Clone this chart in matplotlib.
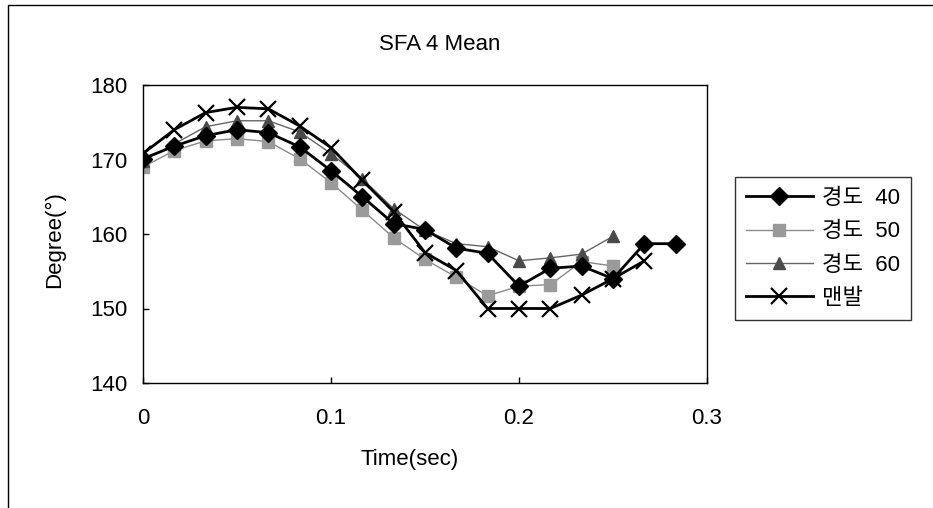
import numpy as np
import matplotlib
matplotlib.use("Agg")
import matplotlib.pyplot as plt
from matplotlib.patches import Rectangle

plt.rcParams['font.family'] = ['Liberation Sans', 'Noto Sans CJK KR', 'DejaVu Sans']

# time axis (sec)
time = [0, 0.0167, 0.0333, 0.05, 0.0667, 0.0833, 0.1, 0.1167, 0.1333,
        0.15, 0.1667, 0.1833, 0.2, 0.2167, 0.2333, 0.25, 0.2667, 0.2833]

hd40 = [170.1, 171.8, 173.2, 174.0, 173.6, 171.7, 168.5, 165.0, 161.4,
        160.6, 158.1, 157.4, 153.0, 155.4, 155.7, 154.0, 158.7, 158.7]
hd50 = [169.0, 171.2, 172.5, 172.8, 172.4, 170.1, 166.9, 163.2, 159.5,
        156.6, 154.2, 151.7, 153.0, 153.2, 156.3, 155.7]
hd60 = [169.8, 172.1, 174.4, 175.2, 175.2, 173.7, 170.8, 167.4, 163.4,
        160.5, 158.7, 158.3, 156.4, 156.8, 157.3, 159.7]
barefoot = [170.8, 174.0, 176.3, 177.0, 176.8, 174.5, 171.6, 167.2, 163.0,
            157.5, 155.1, 150.0, 150.0, 150.0, 151.8, 154.0, 156.4]

labels = ["경도  40", "경도  50", "경도  60", "맨발"]

fig = plt.figure(figsize=(9.33, 5.08), dpi=100)
ax = fig.add_axes([143/933, 1-383/508, (707-143)/933, (383-85)/508])

ax.plot(time[:len(hd40)], hd40, color='black', lw=2, marker='D', ms=9,
        mfc='black', mec='black', label=labels[0], zorder=3)
ax.plot(time[:len(hd50)], hd50, color='#8a8a8a', lw=1, marker='s', ms=9,
        mfc='#9a9a9a', mec='#9a9a9a', label=labels[1], zorder=2)
ax.plot(time[:len(hd60)], hd60, color='#666666', lw=1, marker='^', ms=9,
        mfc='#4a4a4a', mec='#4a4a4a', label=labels[2], zorder=2.5)
ax.plot(time[:len(barefoot)], barefoot, color='black', lw=2, marker='x', ms=12,
        mew=1.6, label=labels[3], zorder=4)

ax.set_xlim(0, 0.3)
ax.set_ylim(140, 180)
ax.set_xticks([0, 0.1, 0.2, 0.3])
ax.set_xticklabels(['0', '0.1', '0.2', '0.3'])
ax.set_yticks([140, 150, 160, 170, 180])
ax.tick_params(direction='in', length=4, width=1, labelsize=16, colors='black')
ax.tick_params(axis='x', pad=18)
ax.tick_params(axis='y', pad=11)
for s in ax.spines.values():
    s.set_linewidth(1)
    s.set_color('black')

fig.text(440/933, 1-45/508, "SFA 4 Mean", ha='center', va='center', fontsize=16)
fig.text(410/933, 1-460/508, "Time(sec)", ha='center', va='center', fontsize=16)
fig.text(55/933, 1-240/508, "Degree(°)", ha='center', va='center', fontsize=16,
         rotation=90)

leg = ax.legend(loc='upper left', bbox_to_anchor=(735/933, 1-177/508),
                bbox_transform=fig.transFigure, borderaxespad=0, fontsize=16,
                frameon=True, fancybox=False, handlelength=3.0,
                labelspacing=0.55, handletextpad=0.4, borderpad=0.5)
leg.get_frame().set_edgecolor('black')
leg.get_frame().set_linewidth(1)

# outer chart border
fig.patches.append(Rectangle((8/933, -0.1), 1.2, 1.1 - 5/508, transform=fig.transFigure,
                             fill=False, edgecolor='black', lw=1))

fig.savefig('out.png', dpi=100)
